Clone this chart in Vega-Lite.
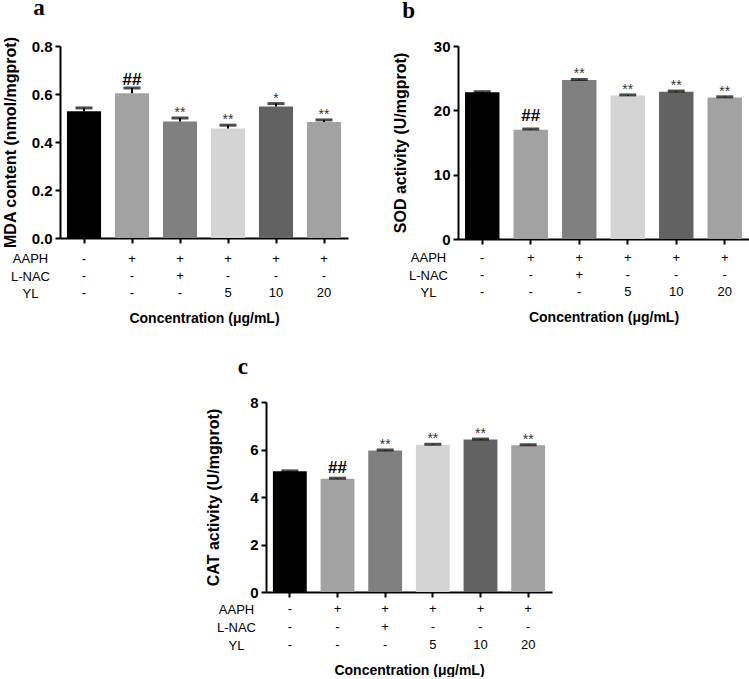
{
  "$schema": "https://vega.github.io/schema/vega-lite/v6.json",
  "background": "white",
  "padding": {"left": 2, "top": -3, "right": -9, "bottom": 0},
  "datasets": {
    "mda": [
      {"group": "g1", "mean": 0.528, "upper": 0.542, "sig": ""},
      {"group": "g2", "mean": 0.603, "upper": 0.625, "sig": "##"},
      {"group": "g3", "mean": 0.485, "upper": 0.5, "sig": "**"},
      {"group": "g4", "mean": 0.456, "upper": 0.47, "sig": "**"},
      {"group": "g5", "mean": 0.548, "upper": 0.56, "sig": "*"},
      {"group": "g6", "mean": 0.483, "upper": 0.492, "sig": "**"}
    ],
    "sod": [
      {"group": "g1", "mean": 22.8, "upper": 22.9, "sig": ""},
      {"group": "g2", "mean": 17.0, "upper": 17.1, "sig": "##"},
      {"group": "g3", "mean": 24.7, "upper": 24.8, "sig": "**"},
      {"group": "g4", "mean": 22.3, "upper": 22.4, "sig": "**"},
      {"group": "g5", "mean": 22.9, "upper": 23.0, "sig": "**"},
      {"group": "g6", "mean": 22.0, "upper": 22.1, "sig": "**"}
    ],
    "cat": [
      {"group": "g1", "mean": 5.08, "upper": 5.1, "sig": ""},
      {"group": "g2", "mean": 4.77, "upper": 4.79, "sig": "##"},
      {"group": "g3", "mean": 5.96, "upper": 5.98, "sig": "**"},
      {"group": "g4", "mean": 6.2, "upper": 6.22, "sig": "**"},
      {"group": "g5", "mean": 6.42, "upper": 6.44, "sig": "**"},
      {"group": "g6", "mean": 6.18, "upper": 6.2, "sig": "**"}
    ],
    "table": [
      {"group": "g1", "row": "AAPH", "val": "-"},
      {"group": "g2", "row": "AAPH", "val": "+"},
      {"group": "g3", "row": "AAPH", "val": "+"},
      {"group": "g4", "row": "AAPH", "val": "+"},
      {"group": "g5", "row": "AAPH", "val": "+"},
      {"group": "g6", "row": "AAPH", "val": "+"},
      {"group": "g1", "row": "L-NAC", "val": "-"},
      {"group": "g2", "row": "L-NAC", "val": "-"},
      {"group": "g3", "row": "L-NAC", "val": "+"},
      {"group": "g4", "row": "L-NAC", "val": "-"},
      {"group": "g5", "row": "L-NAC", "val": "-"},
      {"group": "g6", "row": "L-NAC", "val": "-"},
      {"group": "g1", "row": "YL", "val": "-"},
      {"group": "g2", "row": "YL", "val": "-"},
      {"group": "g3", "row": "YL", "val": "-"},
      {"group": "g4", "row": "YL", "val": "5"},
      {"group": "g5", "row": "YL", "val": "10"},
      {"group": "g6", "row": "YL", "val": "20"}
    ]
  },
  "center": true,
  "spacing": 31,
  "vconcat": [
    {
      "spacing": 44,
      "hconcat": [
        {
          "title": {"text": "a", "dx": 31},
          "spacing": 2,
          "vconcat": [
            {
              "width": 288, "height": 192,
              "data": {"name": "mda"},
              "encoding": {
                "x": {"field": "group", "type": "nominal", "sort": null,
                  "scale": {"paddingInner": 0.29, "paddingOuter": 0.145},
                  "axis": {"labels": false, "title": null}}
              },
              "layer": [
                {"mark": {"type": "bar"},
                 "encoding": {
                   "y": {"field": "mean", "type": "quantitative", "scale": {"domain": [0, 0.8]},
                     "axis": {"values": [0, 0.2, 0.4, 0.6, 0.8], "format": ".1f", "title": "MDA content (nmol/mgprot)", "titlePadding": 13}},
                   "color": {"field": "group", "type": "nominal", "legend": null,
                     "scale": {"domain": ["g1","g2","g3","g4","g5","g6"], "range": ["#000000","#a2a2a2","#808080","#d4d4d4","#626262","#a2a2a2"]}}
                 }},
                {"mark": {"type": "rule", "color": "black", "strokeWidth": 2},
                 "encoding": {"y": {"field": "mean", "type": "quantitative"}, "y2": {"field": "upper"}}},
                {"mark": {"type": "tick", "color": "black", "thickness": 3, "size": 17, "orient": "horizontal"},
                 "encoding": {"y": {"field": "upper", "type": "quantitative"}}},
                {"transform": [{"filter": "datum.sig == '##'"}],
                 "mark": {"type": "text", "fontSize": 17, "fontWeight": "bold", "color": "black", "baseline": "alphabetic", "dy": -3},
                 "encoding": {"y": {"field": "upper", "type": "quantitative"}, "text": {"field": "sig"}}},
                {"transform": [{"filter": "datum.sig == '**' || datum.sig == '*'"}],
                 "mark": {"type": "text", "fontSize": 14, "color": "#333333", "baseline": "alphabetic", "dy": -1},
                 "encoding": {"y": {"field": "upper", "type": "quantitative"}, "text": {"field": "sig"}}}
              ]
            },
            {
              "width": 288, "height": 52,
              "data": {"name": "table"},
              "mark": {"type": "text", "fontSize": 13, "color": "black"},
              "encoding": {
                "x": {"field": "group", "type": "nominal", "sort": null,
                  "scale": {"paddingInner": 0.29, "paddingOuter": 0.145},
                  "axis": {"domain": false, "ticks": false, "labels": false, "title": "Concentration (μg/mL)", "titleFontSize": 14, "titleFontWeight": "bold", "titlePadding": 9}},
                "y": {"field": "row", "type": "nominal", "sort": ["AAPH", "L-NAC", "YL"],
                  "axis": {"title": null, "domain": false, "ticks": false, "tickSize": 0, "labelAlign": "center", "labelPadding": 30, "labelFontSize": 13, "labelFontWeight": "normal"}},
                "text": {"field": "val"}
              }
            }
          ]
        },
        {
          "title": {"text": "b", "dx": 10},
          "spacing": 2,
          "vconcat": [
            {
              "width": 300, "height": 193,
              "data": {"name": "sod"},
              "encoding": {
                "x": {"field": "group", "type": "nominal", "sort": null,
                  "scale": {"range": [0, 291], "paddingInner": 0.29, "paddingOuter": 0.145},
                  "axis": {"labels": false, "title": null}}
              },
              "layer": [
                {"mark": {"type": "bar"},
                 "encoding": {
                   "y": {"field": "mean", "type": "quantitative", "scale": {"domain": [0, 30]},
                     "axis": {"values": [0, 10, 20, 30], "title": "SOD activity (U/mgprot)", "titlePadding": 25}},
                   "color": {"field": "group", "type": "nominal", "legend": null,
                     "scale": {"domain": ["g1","g2","g3","g4","g5","g6"], "range": ["#000000","#a2a2a2","#808080","#d4d4d4","#626262","#a2a2a2"]}}
                 }},
                {"mark": {"type": "rule", "color": "black", "strokeWidth": 2},
                 "encoding": {"y": {"field": "mean", "type": "quantitative"}, "y2": {"field": "upper"}}},
                {"mark": {"type": "tick", "color": "black", "thickness": 3, "size": 17, "orient": "horizontal"},
                 "encoding": {"y": {"field": "upper", "type": "quantitative"}}},
                {"transform": [{"filter": "datum.sig == '##'"}],
                 "mark": {"type": "text", "fontSize": 17, "fontWeight": "bold", "color": "black", "baseline": "alphabetic", "dy": -8},
                 "encoding": {"y": {"field": "upper", "type": "quantitative"}, "text": {"field": "sig"}}},
                {"transform": [{"filter": "datum.sig == '**' || datum.sig == '*'"}],
                 "mark": {"type": "text", "fontSize": 14, "color": "#333333", "baseline": "alphabetic", "dy": -1},
                 "encoding": {"y": {"field": "upper", "type": "quantitative"}, "text": {"field": "sig"}}}
              ]
            },
            {
              "width": 300, "height": 52,
              "data": {"name": "table"},
              "mark": {"type": "text", "fontSize": 13, "color": "black"},
              "encoding": {
                "x": {"field": "group", "type": "nominal", "sort": null,
                  "scale": {"range": [0, 291], "paddingInner": 0.29, "paddingOuter": 0.145},
                  "axis": {"domain": false, "ticks": false, "labels": false, "title": "Concentration (μg/mL)", "titleFontSize": 14, "titleFontWeight": "bold", "titlePadding": 9}},
                "y": {"field": "row", "type": "nominal", "sort": ["AAPH", "L-NAC", "YL"],
                  "axis": {"title": null, "domain": false, "ticks": false, "tickSize": 0, "labelAlign": "center", "labelPadding": 30, "labelFontSize": 13, "labelFontWeight": "normal"}},
                "text": {"field": "val"}
              }
            }
          ]
        }
      ]
    },
    {
      "title": {"text": "c", "dx": 32},
      "spacing": -2,
      "vconcat": [
        {
          "width": 286, "height": 190,
          "data": {"name": "cat"},
          "encoding": {
            "x": {"field": "group", "type": "nominal", "sort": null,
              "scale": {"paddingInner": 0.29, "paddingOuter": 0.145},
              "axis": {"labels": false, "title": null}}
          },
          "layer": [
            {"mark": {"type": "bar"},
             "encoding": {
               "y": {"field": "mean", "type": "quantitative", "scale": {"domain": [0, 8]},
                 "axis": {"values": [0, 2, 4, 6, 8], "title": "CAT activity (U/mgprot)", "titlePadding": 28}},
               "color": {"field": "group", "type": "nominal", "legend": null,
                 "scale": {"domain": ["g1","g2","g3","g4","g5","g6"], "range": ["#000000","#a2a2a2","#808080","#d4d4d4","#626262","#a2a2a2"]}}
             }},
            {"mark": {"type": "rule", "color": "black", "strokeWidth": 2},
             "encoding": {"y": {"field": "mean", "type": "quantitative"}, "y2": {"field": "upper"}}},
            {"mark": {"type": "tick", "color": "black", "thickness": 3, "size": 17, "orient": "horizontal"},
             "encoding": {"y": {"field": "upper", "type": "quantitative"}}},
            {"transform": [{"filter": "datum.sig == '##'"}],
             "mark": {"type": "text", "fontSize": 17, "fontWeight": "bold", "color": "black", "baseline": "alphabetic", "dy": -5},
             "encoding": {"y": {"field": "upper", "type": "quantitative"}, "text": {"field": "sig"}}},
            {"transform": [{"filter": "datum.sig == '**' || datum.sig == '*'"}],
             "mark": {"type": "text", "fontSize": 14, "color": "#333333", "baseline": "alphabetic", "dy": -1},
             "encoding": {"y": {"field": "upper", "type": "quantitative"}, "text": {"field": "sig"}}}
          ]
        },
        {
          "width": 286, "height": 54,
          "data": {"name": "table"},
          "mark": {"type": "text", "fontSize": 13, "color": "black"},
          "encoding": {
            "x": {"field": "group", "type": "nominal", "sort": null,
              "scale": {"paddingInner": 0.29, "paddingOuter": 0.145},
              "axis": {"domain": false, "ticks": false, "labels": false, "title": "Concentration (μg/mL)", "titleFontSize": 14, "titleFontWeight": "bold", "titlePadding": 9}},
            "y": {"field": "row", "type": "nominal", "sort": ["AAPH", "L-NAC", "YL"],
              "axis": {"title": null, "domain": false, "ticks": false, "tickSize": 0, "labelAlign": "center", "labelPadding": 30, "labelFontSize": 13, "labelFontWeight": "normal"}},
            "text": {"field": "val"}
          }
        }
      ]
    }
  ],
  "config": {
    "font": "Liberation Sans",
    "view": {"stroke": null},
    "title": {"font": "Liberation Serif", "fontSize": 23, "fontWeight": "bold", "anchor": "start", "frame": "bounds", "color": "black", "offset": 16},
    "axis": {"grid": false, "domainColor": "black", "domainWidth": 2, "tickColor": "black", "tickWidth": 2, "tickSize": 5, "labelColor": "black", "titleColor": "black", "labelFont": "Liberation Sans", "titleFont": "Liberation Sans"},
    "axisY": {"labelFontSize": 15, "labelFontWeight": "bold", "titleFontSize": 16, "titleFontWeight": "bold", "labelPadding": 3},
    "text": {"font": "Liberation Sans"}
  }
}
